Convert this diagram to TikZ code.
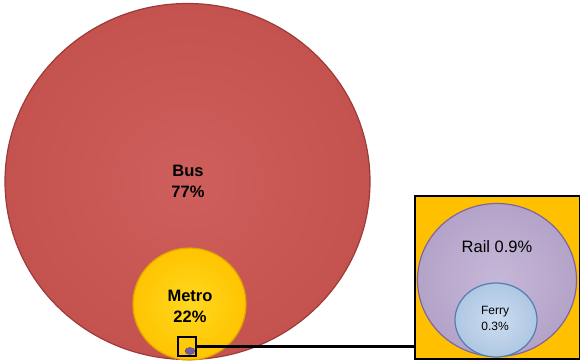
\documentclass[tikz,border=0pt]{standalone}
\usepackage{fontspec}
\setmainfont{Liberation Sans}
\usetikzlibrary{shapes.geometric}
\definecolor{busC}{HTML}{C4524F}
\definecolor{busIn}{HTML}{CF5F5C}
\definecolor{busEdge}{HTML}{9E3A37}
\definecolor{metroC}{HTML}{FFC400}
\definecolor{metroIn}{HTML}{FFD820}
\definecolor{metroEdge}{HTML}{E0A600}
\definecolor{railC}{HTML}{B4A3C8}
\definecolor{railIn}{HTML}{C6B7D8}
\definecolor{railEdge}{HTML}{8064A2}
\definecolor{ferryC}{HTML}{AFC7E3}
\definecolor{ferryIn}{HTML}{CCDDF0}
\definecolor{ferryEdge}{HTML}{4F7FB5}
\definecolor{insetC}{HTML}{FFC000}
\begin{document}
\begin{tikzpicture}[x=1pt,y=-1pt,
  bubble/.style={ellipse,inner sep=0pt,line width=1.2pt},
  lbl/.style={align=center,inner sep=0pt,text=black},
  boldlbl/.style={lbl,font=\bfseries\fontsize{16.5}{21}\selectfont}]
\useasboundingbox (0,0) rectangle (580,361);
\node[bubble,minimum width=365pt,minimum height=356pt,draw=busEdge,inner color=busIn,outer color=busC] (bus) at (187.5,181.5) {};
\node[bubble,minimum width=113pt,minimum height=112pt,draw=metroEdge,inner color=metroIn,outer color=metroC] (metro) at (189.5,304) {};
\node[ellipse,minimum width=10pt,minimum height=7pt,inner sep=0pt,fill=railEdge!90!blue,draw=railEdge!70!black,line width=0.4pt] (tiny) at (190,351) {};
\node[draw=black,line width=2pt,minimum width=18pt,minimum height=19pt,inner sep=0pt] (smallbox) at (186.5,346.5) {};
\node[draw=black,line width=2pt,fill=insetC,minimum width=165pt,minimum height=163pt,inner sep=0pt] (inset) at (497,277.5) {};
\draw[line width=2.5pt] (smallbox.east) -- (smallbox.east -| inset.west);
\node[bubble,minimum width=159pt,minimum height=153pt,draw=railEdge,inner color=railIn,outer color=railC] (rail) at (497,280) {};
\node[bubble,minimum width=82pt,minimum height=74pt,draw=ferryEdge,inner color=ferryIn,outer color=ferryC] (ferry) at (496,320) {};
\node[boldlbl] (buslbl) at (188,181) {Bus\\77\%};
\node[boldlbl] (metrolbl) at (190,306) {Metro\\22\%};
\node[lbl,font=\fontsize{16.5}{20}\selectfont] (raillbl) at (497,247) {Rail 0.9\%};
\node[lbl,font=\fontsize{12}{16}\selectfont] (ferrylbl) at (495,318) {Ferry\\0.3\%};
\end{tikzpicture}
\end{document}
